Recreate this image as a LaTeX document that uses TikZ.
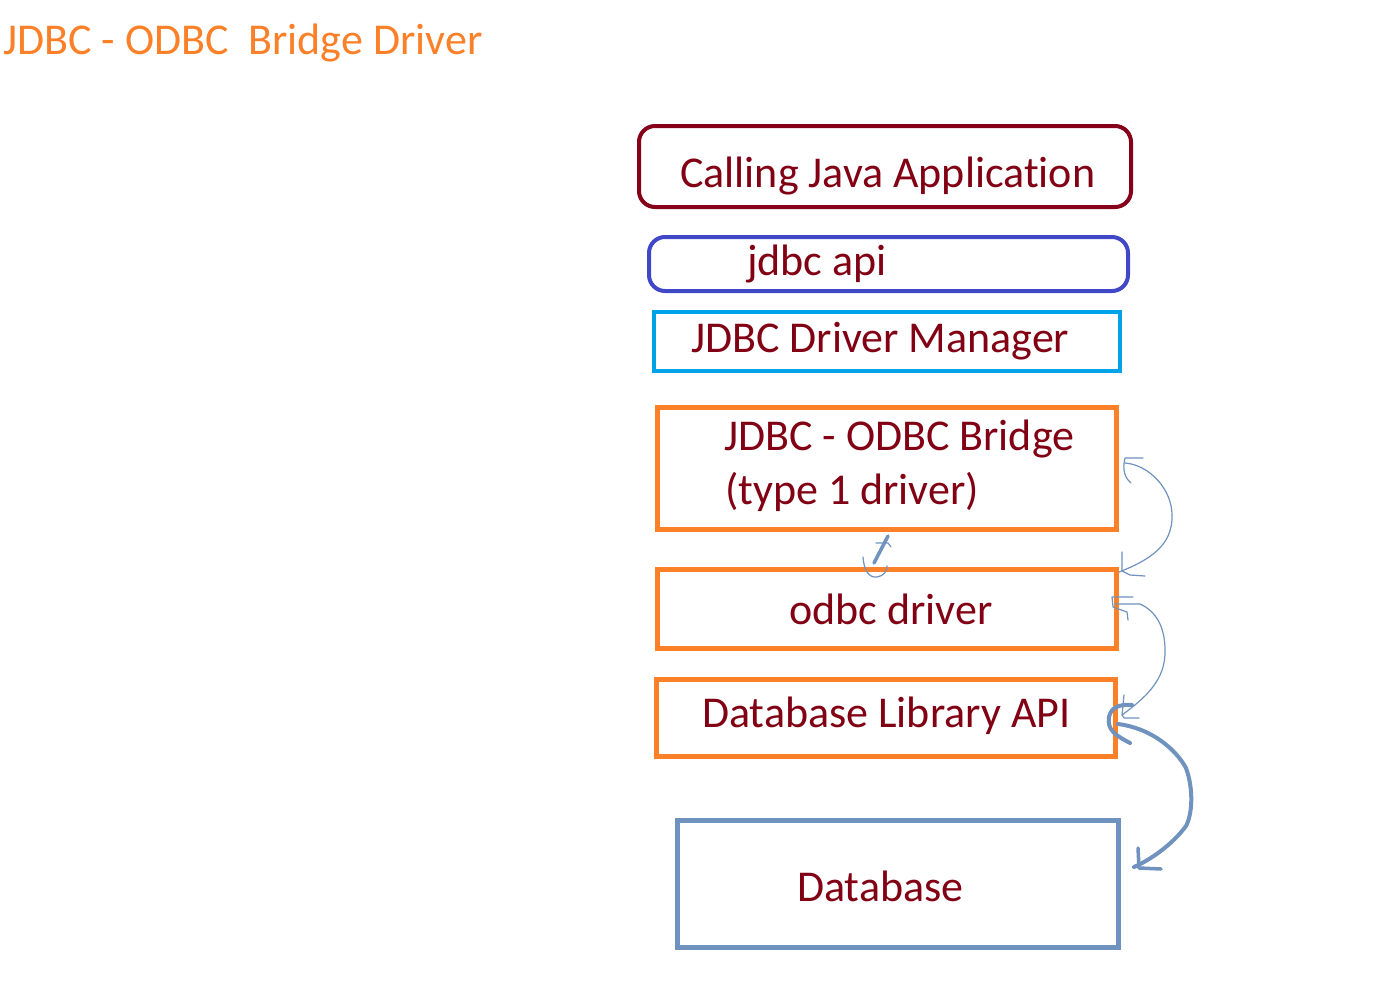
\documentclass[tikz,border=0pt]{standalone}
\usepackage{fontspec}
\setmainfont{Carlito}[Ligatures={NoCommon}]
\definecolor{txtred}{RGB}{130,0,20}
\definecolor{appred}{RGB}{134,0,26}
\definecolor{apiblue}{RGB}{64,72,200}
\definecolor{dmcyan}{RGB}{0,162,232}
\definecolor{orng}{RGB}{252,128,40}
\definecolor{dbblue}{RGB}{112,146,190}
\begin{document}
\begin{tikzpicture}[x=1pt,y=-1pt,
  box/.style={draw, rectangle, inner sep=0pt},
  lbl/.style={anchor=base west, inner sep=0pt, text=txtred, font=\fontsize{44}{52}\selectfont},
  thin/.style={draw=dbblue, line width=1.2pt, line cap=round, line join=round},
  thick/.style={draw=dbblue, line width=4pt, line cap=round, line join=round}]
\useasboundingbox[fill=white] (0,0) rectangle (1379,998);

\node[anchor=base west, inner sep=0pt, text=orng, font=\fontsize{44}{52}\selectfont] (title) at (3,55) {JDBC - ODBC \ Bridge Driver};

\node[box, draw=appred, line width=4pt, rounded corners=16pt, minimum width=492pt, minimum height=81pt] (cja) at (885,166.5) {};
\node[box, draw=apiblue, line width=4pt, rounded corners=16pt, minimum width=479pt, minimum height=54pt] (api) at (888.5,264) {};
\node[box, draw=dmcyan, line width=4pt, minimum width=466pt, minimum height=59pt] (dm) at (887,341.5) {};
\node[box, draw=orng, line width=5pt, minimum width=459pt, minimum height=122pt] (br) at (887,468.5) {};
\node[box, draw=orng, line width=5pt, minimum width=459pt, minimum height=79pt] (od) at (887,609) {};
\node[box, draw=orng, line width=5pt, minimum width=459pt, minimum height=77pt] (dl) at (886,718) {};
\node[box, draw=dbblue, line width=5pt, minimum width=441pt, minimum height=127pt] (db) at (898,884) {};

\node[lbl] (tcja) at (680,187) {Calling Java Application};
\node[lbl] (tapi) at (747,275) {jdbc api};
\node[lbl] (tdm) at (691,352) {JDBC Driver Manager};
\node[lbl] (tbr1) at (724,450) {JDBC - ODBC Bridge};
\node[lbl] (tbr2) at (725,504) {(type 1 driver)};
\node[lbl] (tod) at (789,624) {odbc driver};
\node[lbl] (tdl) at (702,727) {Database Library API};
\node[lbl] (tdb) at (797,901) {Database};

% short mark between bridge and odbc driver
\draw[thick, line width=3.5pt] (888,536) -- (874,563);
\draw[thin] (876,543) -- (888,543) -- (891,547);
\draw[thin] (863,557) .. controls (864,572) and (870,578) .. (877,577) .. controls (884,576) and (887,571) .. (887,566);

% arrow from bridge to odbc driver
\draw[thin] (1131,483) .. controls (1125,478) and (1122,470) .. (1125,458) -- (1143,458);
\draw[thin] (1125,463) .. controls (1150,465) and (1172,490) .. (1172,515)
  .. controls (1173,545) and (1150,560) .. (1119,572);
\draw[thin] (1122,552) -- (1122,571) -- (1130,575) -- (1145,576);

% arrow from odbc driver to database library api
\draw[thin] (1128,620) -- (1127,612) -- (1113,607) -- (1112,597) -- (1133,597);
\draw[thin] (1115,604) -- (1140,604) .. controls (1158,612) and (1165,630) .. (1165,650)
  .. controls (1166,680) and (1145,698) .. (1122,715);
\draw[thin] (1124,695) -- (1122,715) -- (1124,718) -- (1139,718);

% thick arrow from database library api to database
\draw[thick] (1130,743) .. controls (1115,735) and (1107,730) .. (1109,717)
  .. controls (1111,707) and (1120,704) .. (1132,705);
\draw[thick] (1118,724) .. controls (1150,728) and (1175,748) .. (1186,768)
  .. controls (1194,790) and (1192,815) .. (1186,826)
  .. controls (1172,845) and (1150,860) .. (1134,867);
\draw[thick, line width=3.5pt] (1138,848) -- (1139,868) -- (1161,869);
\end{tikzpicture}
\end{document}
